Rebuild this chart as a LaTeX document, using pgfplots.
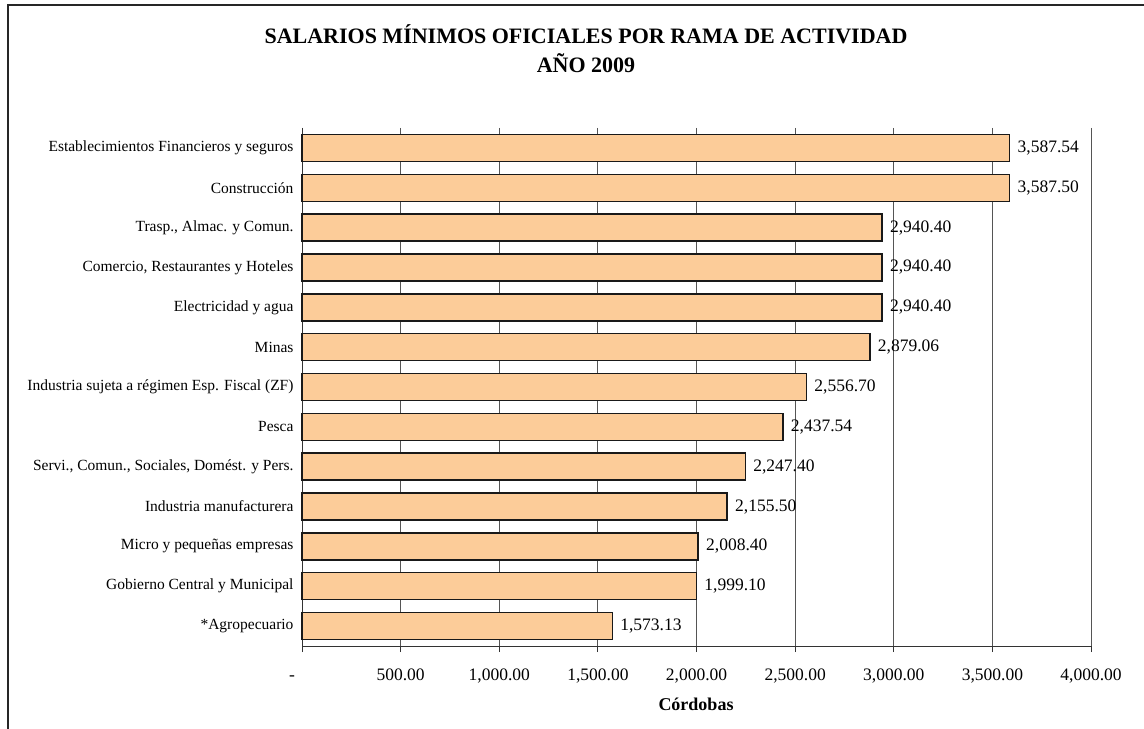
\documentclass[border=0pt]{standalone}
\usepackage{pgfplots}
\pgfplotsset{compat=1.18}
\usepackage{pgfplotstable}
\usepackage{fontspec}
\setmainfont{Liberation Serif}
\definecolor{barfill}{HTML}{FCCC99}
\definecolor{gridc}{HTML}{555555}

\pgfplotstableread{
y val lab
0 3587.54 3,587.54
1 3587.50 3,587.50
2 2940.40 2,940.40
3 2940.40 2,940.40
4 2940.40 2,940.40
5 2879.06 2,879.06
6 2556.70 2,556.70
7 2437.54 2,437.54
8 2247.40 2,247.40
9 2155.50 2,155.50
10 2008.40 2,008.40
11 1999.10 1,999.10
12 1573.13 1,573.13
}\datatable

\begin{document}
\begin{tikzpicture}
\useasboundingbox (0,0) rectangle (1144bp,729bp);
\draw[line width=2bp,black!85] (8bp,0) -- (8bp,724bp) -- (1144bp,724bp);
\node[font=\fontsize{22bp}{25bp}\selectfont\bfseries] at (586bp,695bp) {SALARIOS MÍNIMOS OFICIALES POR RAMA DE ACTIVIDAD};
\node[font=\fontsize{22bp}{25bp}\selectfont\bfseries] at (586bp,666bp) {AÑO 2009};
\begin{axis}[
  at={(302bp,83bp)}, anchor=south west,
  scale only axis, width=789bp, height=518bp,
  xbar, bar width=27bp,
  xmin=0, xmax=4000, ymin=-0.5, ymax=12.5, y dir=reverse,
  axis x line*=bottom, axis y line*=left,
  axis line style={line width=0.8bp, black!80},
  xtick={0,500,1000,1500,2000,2500,3000,3500,4000},
  xticklabels={{\vphantom{0}\makebox[0pt][r]{-\hspace{7bp}}},500.00,{1,000.00},{1,500.00},{2,000.00},{2,500.00},{3,000.00},{3,500.00},{4,000.00}},
  xmajorgrids, grid style={line width=0.8bp, gridc},
  tick align=outside, major tick length=6bp,
  tick style={line width=0.8bp, black!80},
  ytick={0,...,12},
  yticklabels={Establecimientos Financieros y seguros, Construcción, {Trasp., Almac. y Comun.}, {Comercio, Restaurantes y Hoteles}, Electricidad y agua, Minas, Industria sujeta a régimen Esp. Fiscal (ZF), Pesca, {Servi., Comun., Sociales, Domést. y Pers.}, Industria manufacturera, Micro y pequeñas empresas, Gobierno Central y Municipal, *Agropecuario},
  ytick style={draw=none},
  extra y ticks={-0.5,0.5,1.5,2.5,3.5,4.5,5.5,6.5,7.5,8.5,9.5,10.5,11.5,12.5},
  extra y tick labels={},
  extra y tick style={grid=none, major tick length=6bp, tick style={draw=black!80, line width=0.8bp}},
  yticklabel style={font=\fontsize{15.5bp}{18bp}\selectfont, xshift=1bp},
  xticklabel style={font=\fontsize{17.5bp}{20bp}\selectfont, yshift=-13bp},
  /pgf/number format/assume math mode=true,
  nodes near coords, point meta=explicit symbolic,
  every node near coord/.append style={font=\fontsize{17.5bp}{20bp}\selectfont, anchor=west, xshift=4bp},
  clip=false,
]
\addplot[fill=barfill, draw=black!90, line width=1.5bp] table[x=val, y=y, meta=lab]{\datatable};
\end{axis}
\node[font=\fontsize{18bp}{21bp}\selectfont\bfseries] at (696bp,25bp) {Córdobas};
\end{tikzpicture}
\end{document}
